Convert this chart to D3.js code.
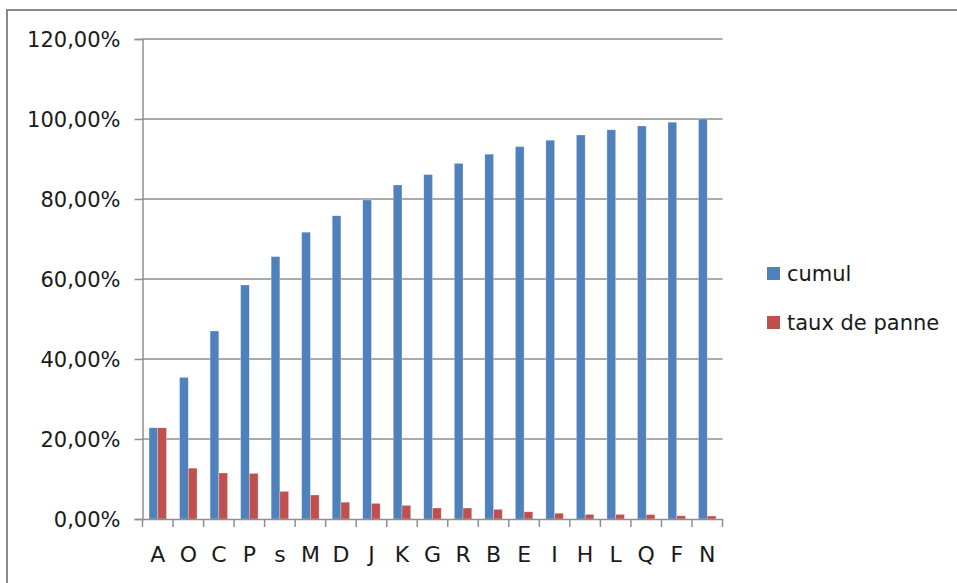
<!DOCTYPE html>
<html>
<head>
<meta charset="utf-8">
<script src="https://cdn.jsdelivr.net/npm/d3@7"></script>
<style>
  html, body { margin: 0; padding: 0; background: #fff; }
  svg { display: block; }
  text { font-family: "DejaVu Sans", sans-serif; fill: #1a1a1a; }
</style>
</head>
<body>
<svg id="chart" width="957" height="583"></svg>
<script>
// Pareto des pannes : part de chaque panne et cumul
const categories = ["A","O","C","P","s","M","D","J","K","G","R","B","E","I","H","L","Q","F","N"];
const cumul = [0.228,0.354,0.470,0.585,0.656,0.717,0.758,0.7975,0.835,0.861,0.889,0.912,0.931,0.947,0.960,0.973,0.9825,0.992,1.000];
const tauxDePanne = [0.228,0.127,0.115,0.114,0.069,0.060,0.042,0.039,0.034,0.0275,0.0275,0.024,0.018,0.0145,0.0115,0.0115,0.011,0.008,0.0075];
const seriesNames = ["cumul","taux de panne"];
const seriesColors = ["#4F81BD","#C0504D"];
const yTicks = [0,0.2,0.4,0.6,0.8,1.0,1.2];

const svg = d3.select("#chart");
const W = 957, H = 583;
const plot = { left: 142.5, right: 722.5, top: 39, bottom: 519 };

// cadre
svg.append("path")
  .attr("d", `M7,${H} V10 H${W}`)
  .attr("fill", "none")
  .attr("stroke", "#8a8a8a")
  .attr("stroke-width", 2);

const fr = d3.formatLocale({ decimal: ",", thousands: " ", grouping: [3], currency: ["", " €"] });
const pct = fr.format(".2%");

const x = d3.scaleBand().domain(categories).range([plot.left, plot.right]).padding(0);
const xs = d3.scaleBand().domain(seriesNames).range([0, x.bandwidth()]).paddingInner(0).paddingOuter(0.75);
const y = d3.scaleLinear().domain([0, 1.2]).range([plot.bottom, plot.top]);

// quadrillage horizontal
svg.append("g")
  .selectAll("line")
  .data(yTicks.slice(1))
  .join("line")
  .attr("x1", plot.left).attr("x2", plot.right)
  .attr("y1", d => y(d)).attr("y2", d => y(d))
  .attr("stroke", "#8e8e8e")
  .attr("stroke-width", 1.5);

// barres
const rows = categories.map((c, i) => ({ cat: c, values: [cumul[i], tauxDePanne[i]] }));
const groups = svg.append("g").selectAll("g")
  .data(rows)
  .join("g")
  .attr("transform", d => `translate(${x(d.cat)},0)`);
groups.selectAll("rect")
  .data(d => d.values.map((v, k) => ({ name: seriesNames[k], v, k })))
  .join("rect")
  .attr("x", d => xs(d.name))
  .attr("width", xs.bandwidth())
  .attr("y", d => y(d.v))
  .attr("height", d => y(0) - y(d.v))
  .attr("fill", d => seriesColors[d.k])
  .attr("stroke", "rgba(255,255,255,0.45)")
  .attr("stroke-width", 0.6);

// axe Y
const yAxis = svg.append("g")
  .attr("transform", `translate(${plot.left},0)`)
  .call(d3.axisLeft(y).tickValues(yTicks).tickFormat(pct).tickSize(8).tickPadding(14));
yAxis.select(".domain").attr("stroke", "#8e8e8e").attr("stroke-width", 1.5);
yAxis.selectAll(".tick line").attr("stroke", "#8e8e8e").attr("stroke-width", 1.5);
yAxis.selectAll(".tick text")
  .attr("font-size", 21)
  .attr("font-family", "DejaVu Sans, sans-serif")
  .attr("fill", "#1a1a1a")
  .attr("dy", "0.36em");

// axe X
const xAxis = svg.append("g")
  .attr("transform", `translate(0,${plot.bottom})`)
  .call(d3.axisBottom(x).tickSize(0).tickPadding(0));
xAxis.select(".domain").attr("stroke", "#8e8e8e").attr("stroke-width", 1.5);
xAxis.selectAll(".tick text")
  .attr("font-size", 22)
  .attr("font-family", "DejaVu Sans, sans-serif")
  .attr("fill", "#1a1a1a")
  .attr("dy", 0)
  .attr("y", 43);
// graduations entre catégories
xAxis.append("g")
  .selectAll("line")
  .data(categories.map(c => x(c)).concat([plot.right]))
  .join("line")
  .attr("x1", d => d).attr("x2", d => d)
  .attr("y1", 0).attr("y2", 8)
  .attr("stroke", "#8e8e8e")
  .attr("stroke-width", 1.5);

// légende
const legend = svg.append("g").attr("transform", "translate(767,0)");
const legendRows = legend.selectAll("g")
  .data(seriesNames)
  .join("g")
  .attr("transform", (d, i) => `translate(0,${267 + i * 49})`);
legendRows.append("rect")
  .attr("width", 13).attr("height", 13)
  .attr("fill", (d, i) => seriesColors[i]);
legendRows.append("text")
  .attr("x", 20).attr("y", 13.5)
  .attr("font-size", 21)
  .text(d => d);
</script>
</body>
</html>
